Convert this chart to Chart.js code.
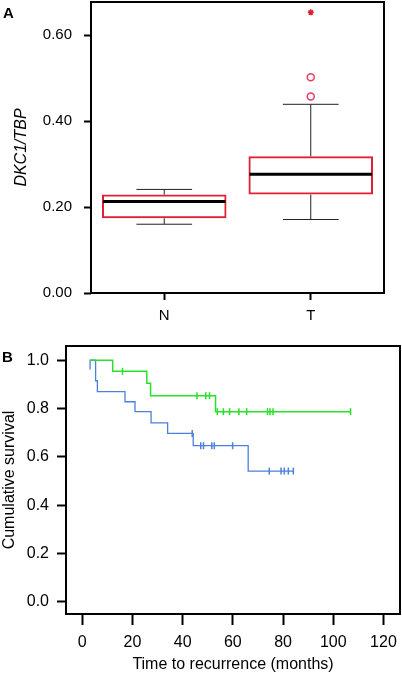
<!DOCTYPE html>
<html>
<head>
<meta charset="utf-8">
<script src="https://cdn.jsdelivr.net/npm/chart.js@4"></script>
<style>
  body { margin: 0; background: #fff; }
  #wrap { position: relative; width: 402px; height: 674px; font-family: 'Liberation Sans', Arial, sans-serif; }
  canvas { position: absolute; left: 0; }
  .panel { position: absolute; font-weight: bold; font-size: 15px; line-height: 15px; color: #000; }
</style>
</head>
<body>
<div id="wrap">
  <canvas id="boxChart" width="402" height="330" style="top:0"></canvas>
  <canvas id="kmChart" width="402" height="344" style="top:330px"></canvas>
  <div class="panel" style="left:3px;top:5px">A</div>
  <div class="panel" style="left:2px;top:349px">B</div>
</div>
<script>
// panel A: DKC1/TBP box plot
const boxCategories = ['N', 'T']
const boxMin = [0.160, 0.171]
const boxQ1 = [0.174, 0.229]
const boxMedian = [0.213, 0.276]
const boxQ3 = [0.229, 0.318]
const boxMax = [0.241, 0.439]
const outlierCategory = 'T'
const outlierCircles = [0.457, 0.502]
const outlierStars = [0.653]
const boxYTicks = [0, 0.2, 0.4, 0.6]

// panel B: Kaplan-Meier, time to recurrence
const greenTimes = [3.1, 12.1, 25.7, 27.2, 53.1, 106.9]
const greenSurv = [1.0, 0.954, 0.905, 0.853, 0.787, 0.787]
const greenCensored = [16.0, 45.7, 49.2, 50.7, 53.8, 56.2, 58.7, 62.4, 65.5, 73.8, 74.8, 76.0, 106.9]
const blueTimes = [3.1, 3.1, 5.3, 6.0, 17.0, 21.0, 27.4, 34.0, 44.2, 66.1, 84.1]
const blueSurv = [0.962, 1.0, 0.915, 0.870, 0.828, 0.787, 0.741, 0.697, 0.646, 0.541, 0.541]
const blueCensored = [43.8, 47.2, 48.3, 51.6, 52.6, 59.9, 74.5, 79.2, 80.5, 82.1, 84.1]
const kmXTicks = [0, 20, 40, 60, 80, 100, 120]
const kmYTicks = [0, 0.2, 0.4, 0.6, 0.8, 1.0]

const fontFamily = "'Liberation Sans', Arial, sans-serif"
const boxRed = 'rgb(226, 30, 52)'
const outlierRed = 'rgb(232, 60, 95)'
const green = 'rgb(40, 225, 40)'
const blue = 'rgb(75, 128, 222)'

// survival value at time t from the step arrays
function survAt(times, surv, t) {
  let s = surv[0]
  for (let i = 0; i < times.length; i++) {
    if (times[i] <= t) s = surv[i]
  }
  return s
}

const framePlugin = {
  id: 'frame',
  afterDraw(chart) {
    const { ctx, chartArea } = chart
    ctx.save()
    ctx.strokeStyle = '#000'
    ctx.lineWidth = 2
    ctx.strokeRect(chartArea.left, chartArea.top, chartArea.right - chartArea.left, chartArea.bottom - chartArea.top)
    ctx.restore()
  },
}

const boxExtras = {
  id: 'boxExtras',
  afterDatasetsDraw(chart) {
    const { ctx } = chart
    const x = chart.scales.x
    const y = chart.scales.y
    const bars = chart.getDatasetMeta(0).data
    const capHalf = (x.getPixelForValue(1) - x.getPixelForValue(0)) * 0.19
    ctx.save()
    boxCategories.forEach((c, i) => {
      const cx = bars[i].x
      const half = bars[i].width / 2
      // whiskers
      ctx.strokeStyle = '#222'
      ctx.lineWidth = 1
      ctx.beginPath()
      ctx.moveTo(cx, y.getPixelForValue(boxQ3[i]))
      ctx.lineTo(cx, y.getPixelForValue(boxMax[i]))
      ctx.moveTo(cx - capHalf, y.getPixelForValue(boxMax[i]))
      ctx.lineTo(cx + capHalf, y.getPixelForValue(boxMax[i]))
      ctx.moveTo(cx, y.getPixelForValue(boxQ1[i]))
      ctx.lineTo(cx, y.getPixelForValue(boxMin[i]))
      ctx.moveTo(cx - capHalf, y.getPixelForValue(boxMin[i]))
      ctx.lineTo(cx + capHalf, y.getPixelForValue(boxMin[i]))
      ctx.stroke()
      // median
      ctx.strokeStyle = '#000'
      ctx.lineWidth = 3
      ctx.beginPath()
      ctx.moveTo(cx - half + 1, y.getPixelForValue(boxMedian[i]))
      ctx.lineTo(cx + half - 1, y.getPixelForValue(boxMedian[i]))
      ctx.stroke()
    })
    ctx.restore()
  },
}

// keep the plot area where the frame sits in the reference
function fixWidth(w) {
  return (s) => { s.width = w; s.paddingTop = 0; s.paddingBottom = 0 }
}
function fixHeight(h) {
  return (s) => { s.height = h; s.paddingLeft = 0; s.paddingRight = 0 }
}

const fontA = { family: fontFamily, size: 15 }
const fontB = { family: fontFamily, size: 16 }

new Chart(document.getElementById('boxChart'), {
  type: 'bar',
  data: {
    labels: boxCategories,
    datasets: [
      {
        data: boxCategories.map((c, i) => [boxQ1[i], boxQ3[i]]),
        backgroundColor: 'rgba(255,255,255,0)',
        borderColor: boxRed,
        borderWidth: 2,
        borderSkipped: false,
        barPercentage: 0.85,
        categoryPercentage: 1,
        grouped: false,
      },
      {
        type: 'line',
        data: outlierCircles.map((v) => ({ x: outlierCategory, y: v })),
        showLine: false,
        pointStyle: 'circle',
        pointRadius: 3.5,
        pointBorderWidth: 1.5,
        pointBorderColor: outlierRed,
        pointBackgroundColor: '#fff',
      },
      {
        type: 'line',
        data: outlierStars.map((v) => ({ x: outlierCategory, y: v })),
        showLine: false,
        pointStyle: 'star',
        pointRadius: 3,
        pointBorderWidth: 1.5,
        pointBorderColor: boxRed,
      },
    ],
  },
  options: {
    responsive: false,
    animation: false,
    layout: { autoPadding: false, padding: { top: 2, right: 18, left: 0, bottom: 0 } },
    plugins: { legend: { display: false }, tooltip: { enabled: false } },
    scales: {
      x: {
        afterFit: fixHeight(37),
        grid: { offset: false, drawOnChartArea: false, tickLength: 7, tickWidth: 2, tickColor: '#000' },
        border: { display: false },
        ticks: { color: '#000', font: fontA, padding: 7 },
      },
      y: {
        min: 0,
        max: 0.677,
        afterBuildTicks: (s) => { s.ticks = boxYTicks.map((v) => ({ value: v })) },
        afterFit: fixWidth(91),
        grid: { drawOnChartArea: false, tickLength: 7, tickWidth: 2, tickColor: '#000' },
        border: { display: false },
        ticks: { color: '#000', font: fontA, padding: 12, callback: (v) => v.toFixed(2) },
        title: {
          display: true,
          text: 'DKC1/TBP',
          color: '#000',
          font: { family: fontFamily, size: 16, style: 'italic' },
          padding: { top: 12 },
        },
      },
    },
  },
  plugins: [boxExtras, framePlugin],
})

function censorSet(times, stepTimes, stepSurv, color) {
  return {
    data: times.map((t) => ({ x: t, y: survAt(stepTimes, stepSurv, t) })),
    showLine: false,
    pointStyle: 'line',
    rotation: 90,
    pointRadius: 3.5,
    pointBorderWidth: 1.5,
    pointBorderColor: color,
  }
}

new Chart(document.getElementById('kmChart'), {
  type: 'line',
  data: {
    datasets: [
      {
        data: greenTimes.map((t, i) => ({ x: t, y: greenSurv[i] })),
        stepped: 'before',
        borderColor: green,
        borderWidth: 1.5,
        pointRadius: 0,
      },
      {
        data: blueTimes.map((t, i) => ({ x: t, y: blueSurv[i] })),
        stepped: 'before',
        borderColor: blue,
        borderWidth: 1.3,
        pointRadius: 0,
      },
      censorSet(greenCensored, greenTimes, greenSurv, green),
      censorSet(blueCensored, blueTimes, blueSurv, blue),
    ],
  },
  options: {
    responsive: false,
    animation: false,
    layout: { autoPadding: false, padding: { top: 16, right: 2, left: 0, bottom: 0 } },
    plugins: { legend: { display: false }, tooltip: { enabled: false } },
    scales: {
      x: {
        type: 'linear',
        min: -6.5,
        max: 126.6,
        afterBuildTicks: (s) => { s.ticks = kmXTicks.map((v) => ({ value: v })) },
        afterFit: fixHeight(60),
        grid: { drawOnChartArea: false, tickLength: 11, tickWidth: 2, tickColor: '#000' },
        border: { display: false },
        ticks: { color: '#000', font: fontB, padding: 8 },
        title: {
          display: true,
          text: 'Time to recurrence (months)',
          color: '#000',
          font: { family: fontFamily, size: 16, lineHeight: 1.15 },
          padding: { bottom: 0 },
        },
      },
      y: {
        min: -0.051,
        max: 1.059,
        afterBuildTicks: (s) => { s.ticks = kmYTicks.map((v) => ({ value: v })) },
        afterFit: fixWidth(66),
        grid: { drawOnChartArea: false, tickLength: 9, tickWidth: 2, tickColor: '#000' },
        border: { display: false },
        ticks: { color: '#000', font: fontB, padding: 8, callback: (v) => v.toFixed(1) },
        title: {
          display: true,
          text: 'Cumulative survival',
          color: '#000',
          font: { family: fontFamily, size: 16 },
          padding: { top: 0 },
        },
      },
    },
  },
  plugins: [framePlugin],
})
</script>
</body>
</html>
